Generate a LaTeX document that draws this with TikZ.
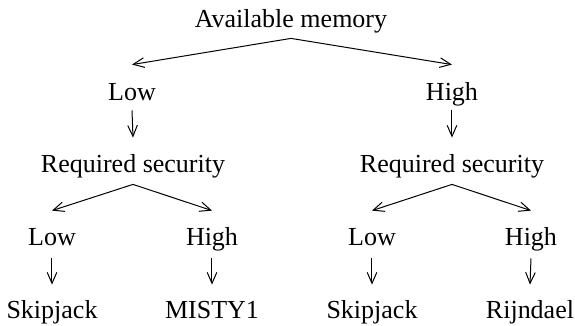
\documentclass[tikz,border=0pt]{standalone}
\usepackage{fontspec}
\setmainfont{Liberation Serif}
\usetikzlibrary{arrows.meta}
\begin{document}
\begin{tikzpicture}[x=0.5pt,y=-0.5pt,
  lbl/.style={anchor=base,inner sep=0pt,text height=9pt,text depth=3pt,font=\fontsize{13}{15}\selectfont},
  arr/.style={line width=0.5pt,-{Straight Barb[length=5.5pt,width=4.8pt]}}]
\useasboundingbox (0,0) rectangle (575,326);
\node[lbl] (mem) at (291,28) {Available memory};
\node[lbl] (lowA) at (132,101) {Low};
\node[lbl] (highA) at (452,101) {High};
\node[lbl] (reqL) at (133,173) {Required security};
\node[lbl] (reqR) at (452,173) {Required security};
\node[lbl] (lowL) at (52,246) {Low};
\node[lbl] (highL) at (212,246) {High};
\node[lbl] (lowR) at (372,246) {Low};
\node[lbl] (highR) at (531,246) {High};
\node[lbl] (skipL) at (52,319) {Skipjack};
\node[lbl] (misty) at (212,319) {MISTY1};
\node[lbl] (skipR) at (372,319) {Skipjack};
\node[lbl] (rijn) at (530,319) {Rijndael};
\draw[arr] ([yshift=-2pt]mem.south) -- ([yshift=9pt]lowA.north);
\draw[arr] ([yshift=-2pt]mem.south) -- ([yshift=9pt]highA.north);
\draw[arr] ([yshift=-1.5pt]lowA.south) -- ([yshift=8.5pt]reqL.north);
\draw[arr] ([yshift=-1.5pt]highA.south) -- ([yshift=8.5pt]reqR.north);
\draw[arr] ([yshift=-2.5pt]reqL.south) -- ([yshift=8.5pt]lowL.north);
\draw[arr] ([yshift=-2.5pt]reqL.south) -- ([yshift=8.5pt]highL.north);
\draw[arr] ([yshift=-2.5pt]reqR.south) -- ([yshift=8.5pt]lowR.north);
\draw[arr] ([yshift=-2.5pt]reqR.south) -- ([yshift=8.5pt]highR.north);
\draw[arr] ([yshift=-3pt]lowL.south) -- ([yshift=8pt]skipL.north);
\draw[arr] ([yshift=-3pt]highL.south) -- ([yshift=8pt]misty.north);
\draw[arr] ([yshift=-3pt]lowR.south) -- ([yshift=8pt]skipR.north);
\draw[arr] ([yshift=-3pt]highR.south) -- ([yshift=8pt]rijn.north);
\end{tikzpicture}
\end{document}
